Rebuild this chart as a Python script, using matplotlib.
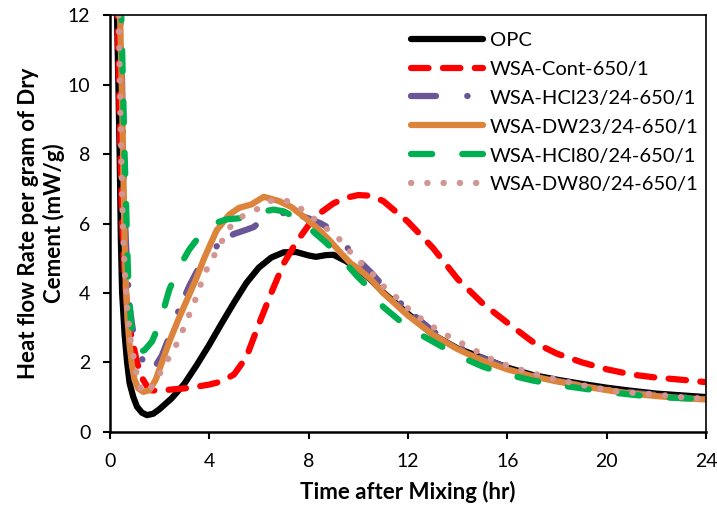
import matplotlib
matplotlib.use("Agg")
import matplotlib.pyplot as plt

plt.rcParams['font.family'] = ['Lato', 'DejaVu Sans']

# ---------------- data ----------------
opc_t = [0.28, 0.35, 0.4, 0.45, 0.5, 0.6, 0.7, 0.8, 0.95, 1.1, 1.3, 1.5, 1.75, 2.0, 2.5, 3.0, 3.5,
         4.0, 4.5, 5.0, 5.5, 6.0, 6.5, 7.0, 7.5, 8.0, 8.3, 8.7, 9.0, 9.5, 10.0, 10.5, 11.0, 12.0,
         13.0, 14.0, 15.0, 16.0, 17.0, 18.0, 19.0, 20.0, 21.0, 22.0, 23.0, 24.0]
opc_q = [12.5, 10.0, 8.0, 5.5, 4.0, 2.8, 2.0, 1.4, 1.0, 0.72, 0.55, 0.48, 0.52, 0.65, 0.97, 1.38, 1.92,
         2.5, 3.12, 3.72, 4.29, 4.73, 5.02, 5.17, 5.18, 5.08, 5.04, 5.09, 5.1, 4.92, 4.68, 4.38, 4.02, 3.4,
         2.8, 2.4, 2.13, 1.85, 1.64, 1.5, 1.38, 1.27, 1.18, 1.1, 1.05, 1.0]

cont_t = [0.3, 0.4, 0.5, 0.6, 0.7, 0.8, 0.95, 1.1, 1.3, 1.6, 2.0, 2.5, 3.0, 3.5, 4.0, 4.5, 5.0, 5.5,
          6.0, 6.5, 7.0, 7.5, 8.0, 8.5, 9.0, 9.5, 10.0, 10.5, 11.0, 11.5, 12.0, 13.0, 14.0, 15.0,
          16.0, 17.0, 18.0, 19.0, 20.0, 21.0, 22.0, 23.0, 24.0]
cont_q = [12.5, 9.0, 6.0, 4.5, 3.6, 3.0, 2.5, 2.0, 1.55, 1.2, 1.18, 1.22, 1.25, 1.3, 1.36, 1.45, 1.65, 2.15,
          3.1, 4.0, 4.85, 5.45, 5.95, 6.32, 6.58, 6.74, 6.82, 6.8, 6.65, 6.35, 6.05, 5.3, 4.4, 3.7,
          3.14, 2.6, 2.25, 2.0, 1.8, 1.65, 1.56, 1.5, 1.43]

hcl23_t = [0.4, 0.45, 0.5, 0.55, 0.6, 0.65, 0.72, 0.8, 0.9, 1.0, 1.2, 1.5, 1.8, 2.1, 2.4, 2.8, 3.2,
           3.6, 4.0, 4.5, 5.0, 5.5, 5.8, 6.2, 6.5, 7.0, 7.5, 8.0, 8.5, 9.0, 9.5, 10.0, 10.5, 11.0,
           11.5, 12.0, 13.0, 14.0, 15.0, 16.0, 17.0, 18.0, 19.0, 20.0, 21.0, 22.0, 23.0, 24.0]
hcl23_q = [12.5, 11.5, 10.0, 8.0, 6.5, 5.5, 4.5, 3.6, 3.1, 2.6, 2.2, 1.9, 1.85, 2.2, 2.75, 3.55, 4.2,
           4.75, 5.1, 5.5, 5.7, 5.82, 5.9, 6.15, 6.28, 6.3, 6.26, 6.15, 6.0, 5.8, 5.35, 4.95, 4.6, 4.2,
           3.85, 3.5, 2.9, 2.45, 2.12, 1.85, 1.63, 1.47, 1.33, 1.22, 1.13, 1.06, 1.0, 0.95]

dw23_t = [0.4, 0.45, 0.5, 0.55, 0.6, 0.65, 0.72, 0.8, 0.9, 1.0, 1.15, 1.35, 1.6, 1.85, 2.1, 2.4, 2.8,
          3.2, 3.5, 3.8, 4.3, 4.8, 5.2, 5.7, 6.2, 6.8, 7.3, 7.8, 8.3, 8.8, 9.3, 9.7, 10.0, 10.5,
          11.0, 12.0, 13.0, 14.0, 15.0, 16.0, 17.0, 18.0, 19.0, 20.0, 21.0, 22.0, 23.0, 24.0]
dw23_q = [12.5, 11.0, 9.5, 7.5, 5.5, 4.2, 3.2, 2.5, 1.9, 1.5, 1.25, 1.15, 1.2, 1.5, 2.0, 2.6, 3.3,
          3.95, 4.45, 5.0, 5.8, 6.25, 6.45, 6.55, 6.77, 6.65, 6.48, 6.2, 5.9, 5.55, 5.15, 4.85, 4.7, 4.4,
          4.0, 3.35, 2.8, 2.38, 2.05, 1.8, 1.6, 1.45, 1.32, 1.2, 1.1, 1.03, 0.97, 0.93]

hcl80_t = [0.45, 0.5, 0.55, 0.6, 0.65, 0.7, 0.75, 0.85, 1.0, 1.2, 1.4, 1.7, 2.0, 2.4, 2.8, 3.2, 3.7,
           4.2, 4.7, 5.2, 5.7, 6.2, 6.6, 7.0, 7.4, 7.9, 8.3, 8.7, 9.0, 9.5, 10.0, 10.5, 11.0, 12.0,
           13.0, 14.0, 15.0, 16.0, 17.0, 18.0, 19.0, 20.0, 21.0, 22.0, 23.0, 24.0]
hcl80_q = [12.5, 11.0, 9.5, 8.0, 6.8, 5.5, 4.3, 3.2, 2.5, 2.3, 2.35, 2.6, 3.1, 4.1, 4.75, 5.25, 5.72,
           6.0, 6.12, 6.15, 6.25, 6.35, 6.4, 6.35, 6.2, 5.95, 5.7, 5.45, 5.24, 4.85, 4.45, 4.1, 3.6, 3.0,
           2.6, 2.2, 1.88, 1.65, 1.48, 1.35, 1.25, 1.15, 1.07, 1.0, 0.97, 0.94]

dw80_t = [0.35, 0.4, 0.45, 0.5, 0.55, 0.62, 0.72, 0.85, 0.95, 1.1, 1.25, 1.4, 1.6, 1.8, 2.1, 2.4, 2.75,
          3.0, 3.25, 3.5, 3.7, 3.95, 4.25, 4.55, 4.9, 5.4, 5.95, 6.5, 7.1, 7.65, 8.2, 8.7, 9.2, 9.6,
          10.05, 10.55, 11.0, 11.3, 12.2, 13.3, 14.4, 15.6, 16.8, 18.0, 19.3, 20.5, 21.9, 23.0, 24.0]
dw80_q = [12.5, 10.5, 8.5, 6.8, 5.5, 4.5, 3.4, 2.6, 2.2, 1.6, 1.25, 1.12, 1.2, 1.4, 1.78, 2.16, 2.6,
          3.03, 3.46, 3.9, 4.33, 4.76, 5.14, 5.54, 5.96, 6.24, 6.42, 6.66, 6.66, 6.45, 6.15, 5.87, 5.58, 5.24,
          4.9, 4.57, 4.2, 4.03, 3.42, 2.88, 2.46, 2.0, 1.73, 1.5, 1.3, 1.15, 1.08, 1.0, 0.95]

labels = ['OPC', 'WSA-Cont-650/1', 'WSA-HCl23/24-650/1', 'WSA-DW23/24-650/1',
          'WSA-HCl80/24-650/1', 'WSA-DW80/24-650/1']
colors = ['#000000', '#FF0000', '#6A5696', '#DD843C', '#00B050', '#D39592']

#----------------------------------------------------------------------
fig = plt.figure(figsize=(7.17, 5.08), dpi=100)
ax = fig.add_axes([0.153, 0.15, 0.832, 0.82])

lw = 4.5
series = [(opc_t, opc_q), (cont_t, cont_q), (hcl23_t, hcl23_q),
          (dw23_t, dw23_q), (hcl80_t, hcl80_q), (dw80_t, dw80_q)]
# dash patterns in linewidth units (excel style)
dashes = [None, (2.8, 2.3), (4.0, 5.0, 0.05, 3.2), None, (3.4, 4.8), (0.05, 2.55)]

for (t, q), lab, c, d in zip(series, labels, colors, dashes):
    line, = ax.plot(t, q, color=c, lw=lw, label=lab,
                    solid_capstyle='round', dash_capstyle='round', solid_joinstyle='round')
    if d is not None:
        line.set_dashes(d)

ax.set_xlim(0, 24)
ax.set_ylim(0, 12)
ax.set_xticks(range(0, 25, 4))
ax.set_yticks(range(0, 13, 2))
ax.tick_params(axis='x', direction='out', length=5, width=1.5, pad=10, labelsize=14)
ax.tick_params(axis='y', direction='out', length=5, width=1.5, pad=9, labelsize=14)
for side in ['left', 'bottom']:
    ax.spines[side].set_linewidth(1.8)
for side in ['top', 'right']:
    ax.spines[side].set_linewidth(1.2)

ax.set_xlabel('Time after Mixing (hr)', fontsize=16, fontweight='bold', labelpad=8)
ax.set_ylabel('Heat flow Rate per gram of Dry\nCement (mW/g)', fontsize=16,
              fontweight='bold', labelpad=2, linespacing=1.2)

ax.legend(loc='upper right', bbox_to_anchor=(1.008, 0.99), frameon=False, fontsize=14.5,
          handlelength=3.6, handletextpad=0.35, labelspacing=0.59, borderaxespad=0.2)

plt.savefig('out.png', dpi=100)
